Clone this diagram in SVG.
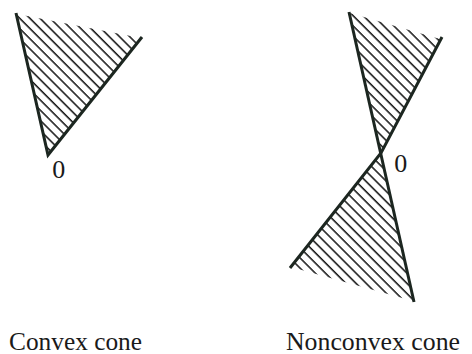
<svg xmlns="http://www.w3.org/2000/svg" width="472" height="354" viewBox="0 0 472 354">
<defs>
<pattern id="hatch" patternUnits="userSpaceOnUse" width="7.2" height="10" patternTransform="rotate(-45)">
<line x1="1" y1="0" x2="1" y2="10" stroke="#000" stroke-width="1.4"/>
</pattern>
</defs>
<style>
.ray{stroke:#1c2620;stroke-width:3;stroke-linecap:butt;stroke-linejoin:miter;fill:none}
.h{fill:url(#hatch);stroke:none}
.t{font-family:"Liberation Serif","Times New Roman",serif;fill:#1a1a1a}
</style>
<rect width="472" height="354" fill="#fff"/>
<g id="convex-cone">
<polygon class="h" points="17,14 141,38 48,154"/>
<g id="convex-rays">
<polyline class="ray" points="16,13 48,155 142,37"/>
</g>
<text class="t" x="58.8" y="178" font-size="26" text-anchor="middle">0</text>
<text class="t" x="9" y="350" font-size="25" textLength="133" lengthAdjust="spacingAndGlyphs">Convex cone</text>
</g>
<g id="nonconvex-cone">
<polygon class="h" points="350,13 440,39 381,152"/>
<polygon class="h" points="381,153 291,267 413,301"/>
<g id="nonconvex-rays">
<line class="ray" x1="349" y1="12" x2="414" y2="302"/>
<polyline class="ray" points="442,37 381,153 290,268"/>
</g>
<text class="t" x="400.7" y="172" font-size="26" text-anchor="middle">0</text>
<text class="t" x="286" y="350" font-size="25" textLength="174" lengthAdjust="spacingAndGlyphs">Nonconvex cone</text>
</g>
</svg>
